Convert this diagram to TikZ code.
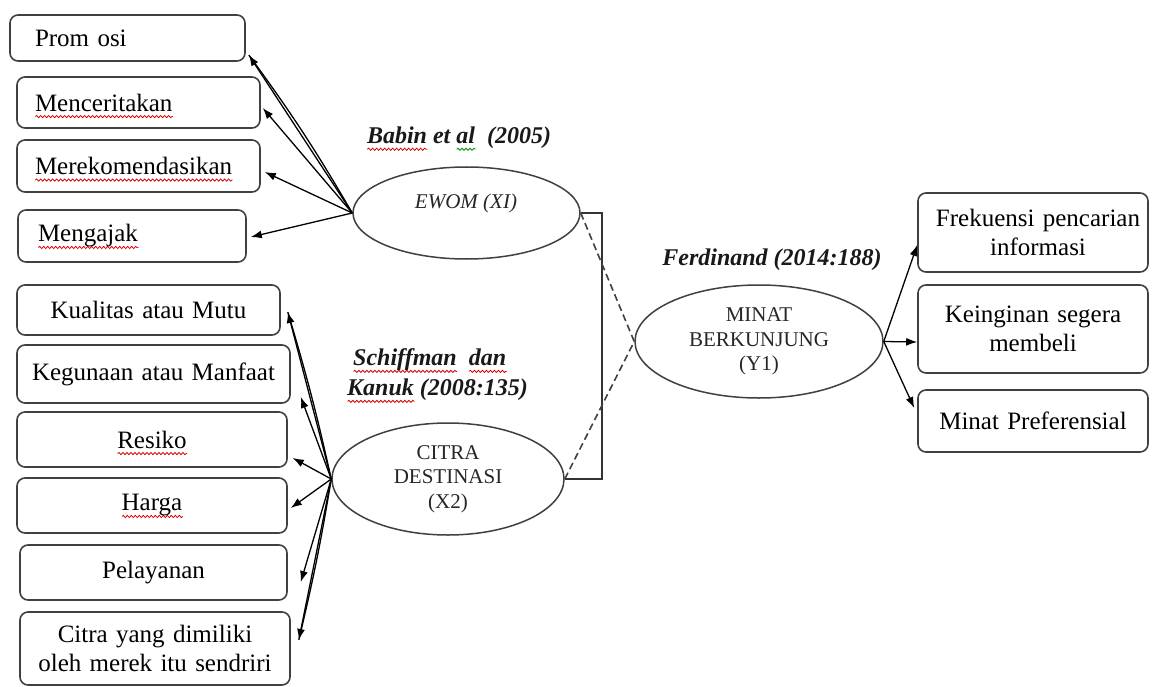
\documentclass[tikz,border=0pt]{standalone}
\usepackage{fontspec}
\setmainfont{Liberation Serif}
\usetikzlibrary{shapes.geometric,arrows.meta,decorations.pathmorphing}
\newsavebox\wavybox
\newlength\wavylen
\newcommand\wavy[2]{\leavevmode\sbox\wavybox{#2}\setlength\wavylen{\wd\wavybox}\rlap{\raisebox{0pt}[0pt][0pt]{\tikz[baseline=0pt,x=1pt,y=1pt,sharp corners]{\draw[#1, sharp corners, line width=0.8pt, solid, decorate, decoration={snake, amplitude=1.1pt, segment length=4pt}] (0,-5.5) -- (\wavylen,-5.5);}}}\usebox\wavybox}
\newcommand\rwave[1]{\wavy{red!85!black}{#1}}
\newcommand\gwave[1]{\wavy{green!55!black}{#1}}
\begin{document}
\begin{tikzpicture}[x=1pt,y=-1pt,
  box/.style={draw=black!75, line width=1.6pt, rounded corners=8pt,
    font=\fontsize{25}{29}\selectfont, inner ysep=0pt, text=black},
  lbox/.style={box, align=left},
  cbox/.style={box, align=center, inner xsep=0pt},
  ell/.style={ellipse, draw=black!75, line width=1.5pt, inner sep=0pt,
    font=\fontsize{21}{24.5}\selectfont, align=center, text=black!85},
  arr/.style={-{Latex[length=11pt,width=8pt]}, line width=1.3pt, black},
  plain/.style={line width=1.3pt, black},
  citelbl/.style={font=\fontsize{24}{30}\selectfont\bfseries\itshape, inner sep=0pt, align=left, text=black!90},
  dashline/.style={dashed, dash pattern=on 7pt off 4pt, line width=1.6pt, black!75},
  bracket/.style={line width=1.5pt, black!80}
]
\useasboundingbox (0,0) rectangle (1153,687);
\fill[white] (0,0) rectangle (1153,687);

% top-left indicator boxes
\node[lbox, text width=185pt, inner xsep=25pt, minimum height=46pt] (promosi) at (127.5,38) {Prom osi};
\node[lbox, text width=207pt, inner xsep=18pt, minimum height=51pt] (cerita) at (138.5,102.5) {\rwave{Menceritakan}};
\node[lbox, text width=207pt, inner xsep=18pt, minimum height=52pt] (rekom) at (138.5,166) {\rwave{Merekomendasikan}};
\node[lbox, text width=188pt, inner xsep=20pt, minimum height=52pt] (ajak) at (132,236) {\rwave{Mengajak}};

% lower-left indicator boxes
\node[cbox, text width=263pt, minimum height=50pt] (kual) at (148.5,310) {Kualitas atau Mutu};
\node[cbox, text width=273pt, minimum height=58pt] (guna) at (153.5,374) {Kegunaan atau Manfaat};
\node[cbox, text width=270pt, minimum height=55pt] (resiko) at (152,439.5) {\rwave{Resiko}};
\node[cbox, text width=270pt, minimum height=55pt] (harga) at (152,505.5) {\rwave{Harga}};
\node[cbox, text width=267pt, minimum height=55pt] (layan) at (153.5,572.5) {Pelayanan};
\node[cbox, text width=270pt, minimum height=73pt] (citrabox) at (155,648.5) {Citra yang dimiliki\\oleh merek itu sendriri};

% right indicator boxes
\node[cbox, text width=230pt, minimum height=79pt] (frek) at (1033,232.5) {\hspace*{10pt}Frekuensi pencarian\\\hspace*{10pt}informasi};
\node[cbox, text width=230pt, minimum height=88pt] (ingin) at (1033,329) {Keinginan segera\\membeli};
\node[cbox, text width=230pt, minimum height=62pt] (pref) at (1033,421) {Minat Preferensial};

% latent variables
\node[ell, minimum width=227pt, minimum height=92pt] (ewom) at (466.5,213) {};
\node[font=\fontsize{21}{24}\selectfont\itshape, text=black!85, inner sep=0pt] (ewomtxt) at (466,203) {EWOM (XI)};
\node[ell, minimum width=232pt, minimum height=112pt] (citra) at (448,479) {CITRA\\DESTINASI\\(X2)};
\node[ell, minimum width=248pt, minimum height=113pt] (minat) at (759,341.5) {MINAT\\BERKUNJUNG\\(Y1)};

% source labels
\node[citelbl] (babin) at (459,138) {\rwave{Babin} et \gwave{al}\ \ (2005)};
\node[citelbl, anchor=west] (schiff) at (347,375) {\hspace*{6pt}\rwave{Schiffman}\ \ \rwave{dan}\\\rwave{Kanuk} (2008:135)};
\node[citelbl] (ferd) at (772,260) {Ferdinand (2014:188)};

% arrows EWOM -> indicators
\draw[arr] (ewom.west) -- ([xshift=3pt,yshift=-17pt]promosi.east);
\draw[plain] (ewom.west) to[bend right=3] ([xshift=3pt,yshift=-17pt]promosi.east);
\draw[arr] (ewom.west) -- ([xshift=2pt,yshift=-5.5pt]cerita.east);
\draw[arr] (ewom.west) -- ([xshift=4pt,yshift=-6pt]rekom.east);
\draw[arr] (ewom.west) -- ([xshift=4pt,yshift=-1pt]ajak.east);

% arrows CITRA -> indicators
\draw[arr] (citra.west) -- ([xshift=7pt,yshift=-2pt]kual.east);
\draw[plain] (citra.west) to[bend right=2] ([xshift=7pt,yshift=-2pt]kual.east);
\draw[arr] (citra.west) -- ([xshift=10pt,yshift=-23pt]guna.east);
\draw[arr] (citra.west) -- ([xshift=5pt,yshift=-18.5pt]resiko.east);
\draw[arr] (citra.west) -- ([xshift=3pt,yshift=-2.5pt]harga.east);
\draw[arr] (citra.west) -- ([xshift=13pt,yshift=-9.5pt]layan.east);
\draw[arr] (citra.west) -- ([xshift=8pt,yshift=8.5pt]citrabox.east);
\draw[plain] (citra.west) to[bend left=2] ([xshift=8pt,yshift=8.5pt]citrabox.east);

% arrows MINAT -> indicators
\draw[arr] (minat.east) -- ([yshift=-12.5pt]frek.west);
\draw[arr] (minat.east) -- ([yshift=-13pt]ingin.west);
\draw[arr] (minat.east) -- ([xshift=-3pt,yshift=13pt]pref.west);

% bracket and dashed links
\coordinate (bx) at (602,0);
\draw[bracket] (ewom.east) -| (bx |- citra.east) -- (citra.east);
\draw[dashline] (ewom.east) -- (minat.west);
\draw[dashline] (citra.east) -- (minat.west);
\end{tikzpicture}
\end{document}
